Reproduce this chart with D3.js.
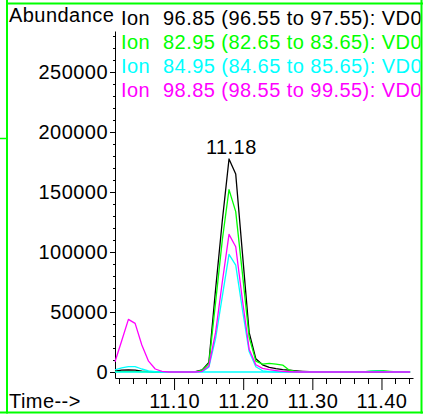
<!DOCTYPE html>
<html><head><meta charset="utf-8">
<script src="https://cdn.jsdelivr.net/npm/d3@7"></script>
<style>
html,body{margin:0;padding:0;background:#fff;}
svg{display:block;}
text{font-family:"Liberation Sans",Arial,sans-serif;font-size:20px;letter-spacing:0.45px;}
</style></head>
<body>
<svg id="chart" width="423" height="417"></svg>
<script>
// ---- data ----
const times = [11.0146,11.0243,11.0340,11.0437,11.0534,11.0631,11.0728,11.0825,11.0922,11.1019,
  11.1116,11.1213,11.1310,11.1407,11.1504,11.1601,11.1698,11.1795,11.1892,11.1989,
  11.2086,11.2183,11.2280,11.2377,11.2474,11.2571,11.2668,11.2765,11.2862,11.2959,
  11.3056,11.3153,11.3250,11.3347,11.3444,11.3541,11.3638,11.3735,11.3832,11.3929,
  11.4026,11.4123,11.4220,11.4317,11.4414];
const ion9685 = [800,1500,1700,1600,800,300,0,0,0,0,0,0,300,1700,8000,69000,126000,177500,165000,99000,
  33000,11000,6000,3800,2800,2000,1500,1000,600,300,0,0,0,0,0,0,0,0,0,0,0,0,0,0,0];
const ion8295 = [300,300,300,300,200,100,0,0,0,0,0,0,200,1500,7000,58000,110000,152000,133600,82000,
  29000,9000,6500,7200,6500,5800,1500,600,300,0,0,0,0,0,0,0,0,0,800,1200,1200,600,0,0,0];
const ion8495 = [1700,3500,4400,4400,2500,1000,300,0,0,0,0,0,0,300,4000,28000,63000,98000,89000,52000,
  17000,4400,1000,300,0,0,0,0,0,0,0,0,0,0,0,0,0,0,500,800,500,0,0,0,0];
const ion9885 = [8600,26000,43900,40500,22500,9000,2500,500,0,0,0,0,0,600,5000,33000,75000,114700,104400,60000,
  19000,6000,3000,2000,1200,500,200,0,0,0,0,0,0,0,0,0,0,0,0,0,0,0,0,0,0];
const legendLabels = ["Ion","Ion","Ion","Ion"];
const legendTexts = ["96.85 (96.55 to 97.55): VD0","82.95 (82.65 to 83.65): VD0",
  "84.95 (84.65 to 85.65): VD0","98.85 (98.55 to 99.55): VD0"];
const yTicks = [0,50000,100000,150000,200000,250000];
const xTicks = [11.10,11.20,11.30,11.40];
const peakLabel = "11.18";
const peakTime = 11.18;
const peakValue = 177500;

// ---- drawing ----
const svg = d3.select("#chart");
const colors = ["#000000","#00ff00","#00ffff","#ff00ff"];
const green = "#00ff00";

const x = d3.scaleLinear().domain([11.0146, 11.4456]).range([115, 413]);
const y = d3.scaleLinear().domain([-5000, 284167]).range([378, 31]);
const y0 = y(0);

svg.append("defs").append("clipPath").attr("id","clip")
  .append("rect").attr("x",8).attr("y",4.5).attr("width",412.5).attr("height",407);

// frame
const frame = svg.append("g").attr("stroke",green).attr("stroke-width",2).attr("fill","none");
frame.append("line").attr("x1",7).attr("x2",7).attr("y1",0).attr("y2",413.5);
frame.append("line").attr("x1",421.5).attr("x2",421.5).attr("y1",0).attr("y2",413.5);
frame.append("line").attr("x1",6).attr("x2",423).attr("y1",3.5).attr("y2",3.5);
frame.append("line").attr("x1",0).attr("x2",423).attr("y1",412.5).attr("y2",412.5);
frame.append("line").attr("x1",0).attr("x2",7).attr("y1",138.5).attr("y2",138.5).attr("stroke-width",1.5);

// y axis
const yAxis = d3.axisLeft(y).tickValues(yTicks).tickSize(5).tickSizeOuter(0).tickPadding(2).tickFormat(d3.format("d"));
const gy = svg.append("g").attr("transform","translate(115,0)").call(yAxis);
gy.selectAll("text").attr("font-size",20).attr("font-family","Liberation Sans, Arial, sans-serif").attr("fill","#000");
gy.select(".domain").attr("stroke","#000");
const yMinor = d3.range(10000, 284000, 10000).filter(v => v % 50000 !== 0);
svg.append("g").selectAll("line").data(yMinor).join("line")
  .attr("x1",113).attr("x2",115).attr("y1",d=>Math.round(y(d))+0.5).attr("y2",d=>Math.round(y(d))+0.5)
  .attr("stroke","#000").attr("stroke-width",1);

// x axis
const xAxis = d3.axisBottom(x).tickValues(xTicks).tickSize(12).tickSizeOuter(0).tickPadding(4).tickFormat(d3.format(".2f"));
const gx = svg.append("g").attr("transform","translate(0,378)").call(xAxis);
gx.selectAll("text").attr("font-size",20).attr("font-family","Liberation Sans, Arial, sans-serif").attr("fill","#000");
const xMinor = d3.range(1, 23).map(i => +(11.00 + i*0.02).toFixed(2)).filter(v => Math.abs(v*10 - Math.round(v*10)) > 1e-6);
svg.append("g").selectAll("line").data(xMinor).join("line")
  .attr("x1",d=>Math.round(x(d))+0.5).attr("x2",d=>Math.round(x(d))+0.5).attr("y1",378).attr("y2",384)
  .attr("stroke","#000").attr("stroke-width",1);

// traces
const series = [ion9685, ion8295, ion8495];
const line = d3.line().x((d,i)=>x(times[i])).y(d=>y(d));
const plot = svg.append("g").attr("fill","none").attr("stroke-width",1.3).attr("stroke-linejoin","round");
series.forEach((s,i)=>{
  plot.append("path").datum(s).attr("d",line).attr("stroke",colors[i]);
});
plot.append("line").attr("x1",x(times[0])).attr("x2",x(times[times.length-1]))
  .attr("y1",y0).attr("y2",y0).attr("stroke",colors[2]);
plot.append("path").datum(ion9885).attr("d",line).attr("stroke",colors[3]);

// labels
svg.append("text").attr("x",9).attr("y",22).text("Abundance");
svg.append("text").attr("x",9).attr("y",408).text("Time-->");
svg.append("text").attr("x",x(peakTime)+2).attr("y",y(peakValue)-5).attr("text-anchor","middle").text(peakLabel);

const lg = svg.append("g").attr("clip-path","url(#clip)");
legendTexts.forEach((t,i)=>{
  const yy = 25 + i*24;
  lg.append("text").attr("x",121).attr("y",yy).attr("fill",colors[i]).text(legendLabels[i]);
  lg.append("text").attr("x",163).attr("y",yy).attr("fill",colors[i]).text(t);
});
</script>
</body></html>
